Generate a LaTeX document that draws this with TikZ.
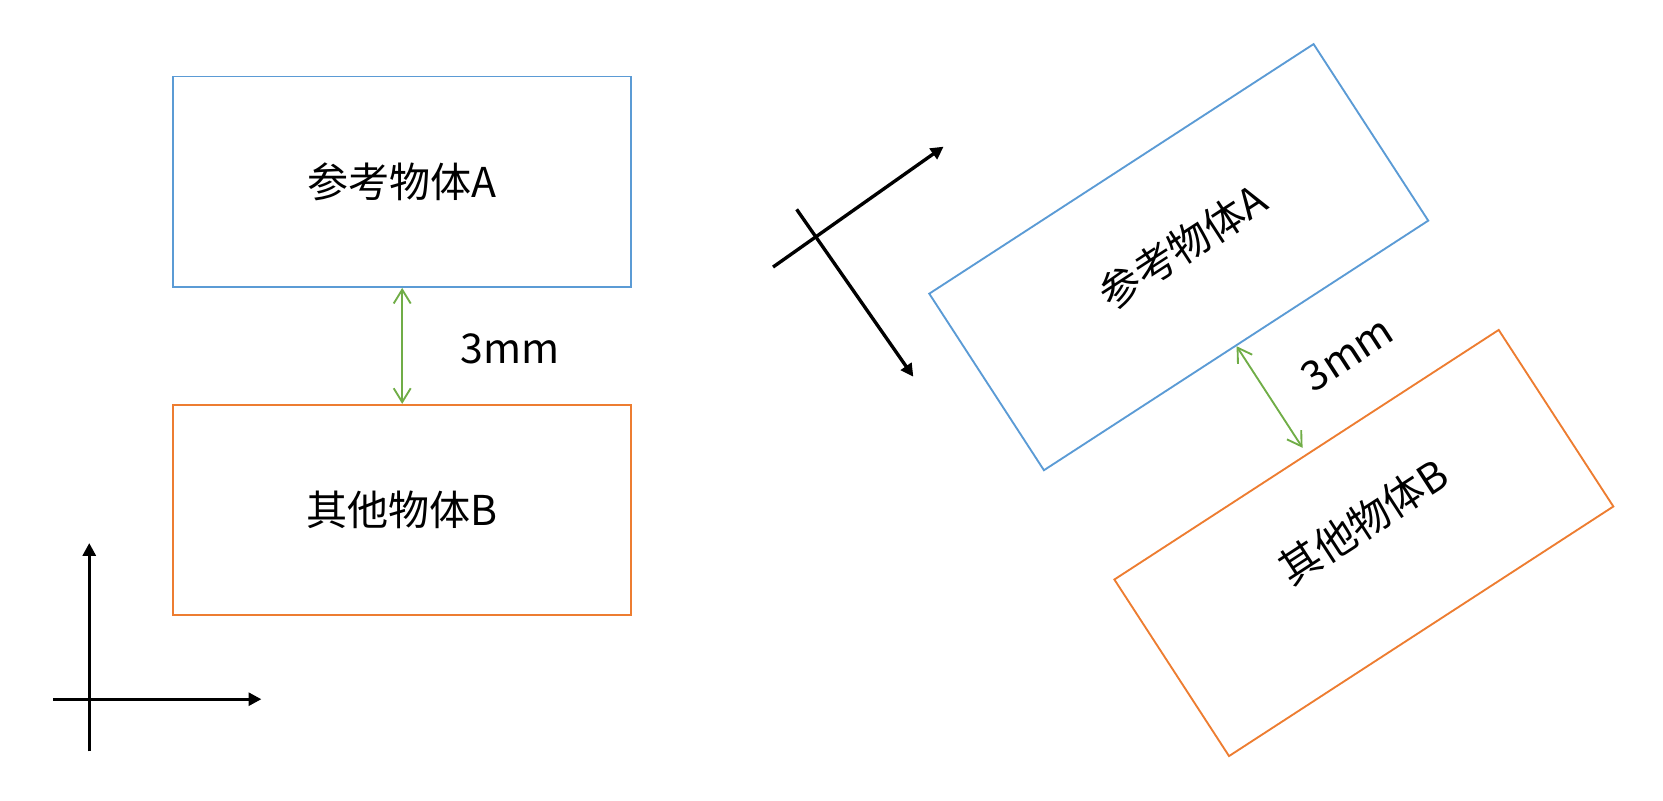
\documentclass[tikz,border=0pt]{standalone}
\usepackage{fontspec}
\setmainfont{Noto Sans CJK SC}
\usetikzlibrary{calc,arrows.meta}
\definecolor{offblue}{RGB}{91,155,213}
\definecolor{offorange}{RGB}{237,125,49}
\definecolor{offgreen}{RGB}{112,173,71}

\begin{document}
\begin{tikzpicture}[x=0.01cm,y=0.01cm,
  objbox/.style={line width=0.5pt, minimum width=4.31cm, minimum height=1.98cm, inner sep=0pt, text=black, font=\fontsize{11pt}{13pt}\selectfont},
  objlabel/.style={inner sep=0pt, font=\fontsize{11pt}{13pt}\selectfont},
  gaparrow/.style={offgreen, line width=0.5pt, {Straight Barb[length=1.3mm,width=1.6mm]}-{Straight Barb[length=1.3mm,width=1.6mm]}},
  gaplabel/.style={font=\fontsize{11pt}{13pt}\selectfont},
  axisline/.style={line width=0.9pt, -{Triangle[length=1.2mm,width=1.2mm]}}]
\useasboundingbox (0,0) rectangle (1565,753);

% Upright objects
\node[objbox, draw=offblue] (refA) at (378.5,582) {参考物体A};
\node[objbox, draw=offorange] (othB) at (378.5,273) {其他物体B};
\draw[gaparrow] (refA.south) -- (othB.north);
\node[gaplabel] (gapTxt) at (480,425) {3mm};

% Upright axes
\coordinate (xStart) at (50,95);
\coordinate (xEnd) at (246,95);
\coordinate (yStart) at (84,46);
\coordinate (yEnd) at (84,242);
\draw[axisline] (xStart) -- (xEnd);
\draw[axisline] (yStart) -- (yEnd);

% Rotated objects
\node[objbox, draw=offblue, rotate=33] (refAr) at (1109.3,511) {};
\node[objbox, draw=offorange, rotate=33] (othBr) at (1283.5,242) {};
\node[objlabel, rotate=33] (refArTxt) at (1113,521) {参考物体A};
\node[objlabel, rotate=33] (othBrTxt) at (1283,262) {其他物体B};
\coordinate (gapEndr) at ($(refAr.south)+(-57:114)$);
\draw[gaparrow] (refAr.south) -- (gapEndr);
\node[gaplabel, rotate=33] (gapTxtr) at (1268,420) {3mm};

% Rotated axes
\coordinate (uStart) at (727.5,501.7);
\coordinate (uEnd) at (888,615);
\coordinate (vStart) at (749.7,556);
\coordinate (vEnd) at (859.5,398.5);
\draw[axisline] (uStart) -- (uEnd);
\draw[axisline] (vStart) -- (vEnd);
\end{tikzpicture}
\end{document}
